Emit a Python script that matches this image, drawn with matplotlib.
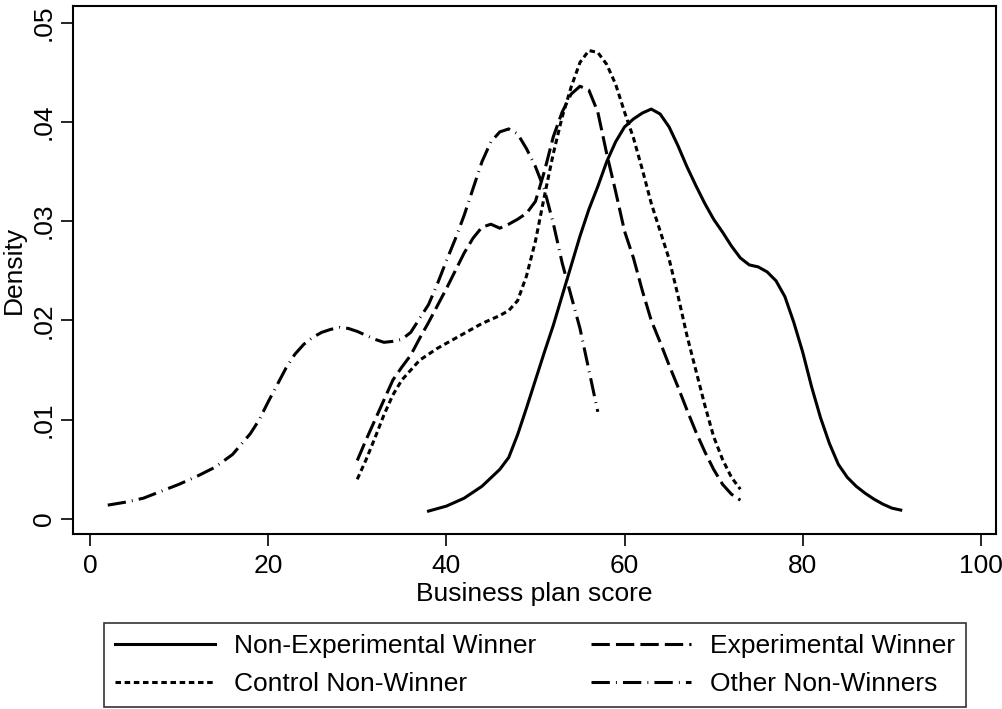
import numpy as np
import matplotlib
matplotlib.use("Agg")
import matplotlib.pyplot as plt

plt.rcParams['font.family'] = ['Liberation Sans', 'DejaVu Sans']

# kernel density estimates (score, density)
nonexp_x = [38, 40, 42, 44, 46, 47, 48, 49, 50, 51, 52, 53, 54, 55, 56, 57, 58, 59, 60,
            61, 62, 63, 64, 65, 66, 67, 68, 69, 70, 71, 72, 73, 74, 75, 76, 77, 78, 79,
            80, 81, 82, 83, 84, 85, 86, 87, 88, 89, 90, 91]
nonexp_y = [0.0008, 0.0013, 0.0021, 0.0033, 0.0050, 0.0062, 0.0085, 0.0112, 0.0140,
            0.0168, 0.0195, 0.0225, 0.0255, 0.0285, 0.0312, 0.0335, 0.0360, 0.0380,
            0.0395, 0.0403, 0.0409, 0.0413, 0.0408, 0.0395, 0.0376, 0.0355, 0.0336,
            0.0318, 0.0302, 0.0289, 0.0275, 0.0263, 0.0256, 0.0254, 0.0249, 0.0240,
            0.0224, 0.0198, 0.0168, 0.0133, 0.0102, 0.0076, 0.0055, 0.0042, 0.0033,
            0.0026, 0.0020, 0.0015, 0.0011, 0.0009]

exp_x = list(range(30, 74))
exp_y = [0.0059, 0.0080, 0.0100, 0.0120, 0.0140, 0.0153, 0.0165, 0.0182, 0.0198,
         0.0215, 0.0232, 0.0250, 0.0268, 0.0283, 0.0294, 0.0297, 0.0293, 0.0297,
         0.0302, 0.0308, 0.0320, 0.0350, 0.0385, 0.0410, 0.0428, 0.0436, 0.0432,
         0.0410, 0.0368, 0.0330, 0.0290, 0.0263, 0.0230, 0.0200, 0.0178, 0.0155,
         0.0133, 0.0110, 0.0088, 0.0068, 0.0050, 0.0035, 0.0025, 0.0019]

ctrl_x = list(range(30, 74))
ctrl_y = [0.0040, 0.0060, 0.0082, 0.0105, 0.0125, 0.0140, 0.0150, 0.0160, 0.0166,
          0.0172, 0.0177, 0.0182, 0.0187, 0.0192, 0.0197, 0.0201, 0.0205, 0.0210,
          0.0220, 0.0245, 0.0280, 0.0325, 0.0368, 0.0405, 0.0435, 0.0460, 0.0472,
          0.0470, 0.0458, 0.0438, 0.0410, 0.0384, 0.0352, 0.0318, 0.0290, 0.0262,
          0.0225, 0.0185, 0.0150, 0.0115, 0.0083, 0.0060, 0.0042, 0.0030]

other_x = [2, 4, 6, 8, 10, 12, 14, 16, 18, 19, 20, 21, 22, 23, 24, 25, 26, 27, 28, 29,
           30, 31, 32, 33, 34, 35, 36, 37, 38, 39, 40, 41, 42, 43, 44, 45, 46, 47, 48,
           49, 50, 51, 52, 53, 54, 55, 56, 57]
other_y = [0.0014, 0.0017, 0.0021, 0.0028, 0.0035, 0.0043, 0.0052, 0.0065, 0.0086,
           0.0100, 0.0118, 0.0135, 0.0152, 0.0166, 0.0176, 0.0183, 0.0188, 0.0191,
           0.0193, 0.0192, 0.0189, 0.0185, 0.0181, 0.0178, 0.0179, 0.0181, 0.0188,
           0.0202, 0.0216, 0.0237, 0.0260, 0.0282, 0.0306, 0.0333, 0.0360, 0.0380,
           0.0390, 0.0393, 0.0388, 0.0373, 0.0355, 0.0332, 0.0298, 0.0258, 0.0225,
           0.0192, 0.0150, 0.0108]

labels = ["Non-Experimental Winner", "Experimental Winner",
          "Control Non-Winner", "Other Non-Winners"]
xticks = [0, 20, 40, 60, 80, 100]
yticks = [0, 0.01, 0.02, 0.03, 0.04, 0.05]
ytick_labels = ["0", ".01", ".02", ".03", ".04", ".05"]

fig = plt.figure(figsize=(10.03, 7.09), dpi=100)
ax = fig.add_axes([0.0728, 0.2468, 0.9203, 0.7447])

lw = 2.2
l1, = ax.plot(nonexp_x, nonexp_y, color='black', lw=lw, linestyle='-')
l2, = ax.plot(exp_x, exp_y, color='black', lw=lw, linestyle=(0, (6, 2)))
l3, = ax.plot(ctrl_x, ctrl_y, color='black', lw=lw, linestyle=(0, (1.8, 1.2)))
l4, = ax.plot(other_x, other_y, color='black', lw=lw, linestyle=(0, (6, 2, 0.3, 2)))

ax.set_xlim(-1.9, 101.7)
ax.set_ylim(-0.00151, 0.05168)
ax.set_xticks(xticks)
ax.set_yticks(yticks)
ax.set_yticklabels(ytick_labels, rotation=90, va='center')
ax.tick_params(axis='both', direction='out', length=8.5, width=1.2, labelsize=19)
ax.tick_params(axis='x', pad=6)
ax.tick_params(axis='y', pad=4)
for s in ax.spines.values():
    s.set_linewidth(1.5)
ax.set_xlabel("Business plan score", fontsize=19, labelpad=3)
ax.set_ylabel("Density", fontsize=19, labelpad=4)

# matplotlib fills legend columns first, so reorder to get rows as in the reference
handles = [l1, l3, l2, l4]
leg_labels = [labels[0], labels[2], labels[1], labels[3]]
leg = fig.legend(handles, leg_labels, ncol=2, loc='lower left',
                 bbox_to_anchor=(0.1037, 0.0028, 0.8594, 0.1185), mode='expand',
                 borderaxespad=0, fontsize=19, handlelength=3.8, handletextpad=0.7,
                 labelspacing=0.53, borderpad=0.42, fancybox=False, edgecolor='black')
leg.get_frame().set_linewidth(1.2)
fig.savefig("out.png", dpi=100)
